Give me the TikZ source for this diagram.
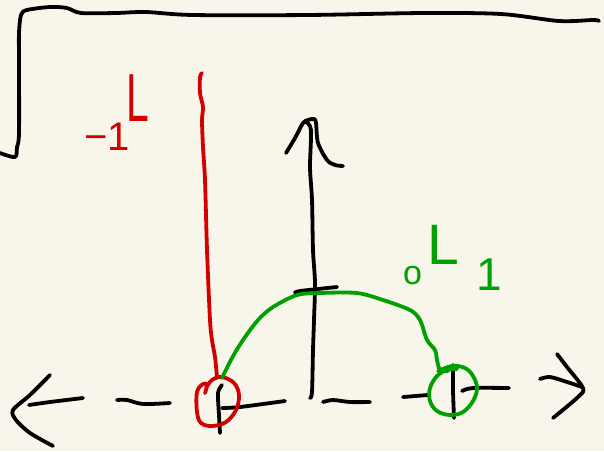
\documentclass[tikz,border=0pt]{standalone}
\usepackage{fontspec}
\setmainfont{Liberation Sans}
\definecolor{paper}{HTML}{F8F6EB}
\definecolor{pen red}{HTML}{D40000}
\definecolor{pen green}{HTML}{00A000}
\tikzset{
  ink/.style={line width=3.8pt, line cap=round, line join=round},
  blackink/.style={ink, draw=black},
  redink/.style={ink, draw=pen red, line width=3.8pt},
  greenink/.style={ink, draw=pen green, line width=3.8pt},
  lbl/.style={inner sep=0pt, outer sep=0pt, anchor=base west}
}
\begin{document}
\begin{tikzpicture}[x=1pt,y=-1pt]
\fill[paper] (0,0) rectangle (604,451);
\useasboundingbox (0,0) rectangle (604,451);
% top frame
\draw[blackink] plot[smooth, tension=0.5] coordinates {(0,153) (15,157) (17,147) (19,133) (19,60) (19,33) (21,15) (27,10) (50,7) (67,8) (81,13) (116,13) (146,12) (193,15) (308,15) (424,13) (501,14) (559,21) (593,20) (599,21)};
% y axis
\draw[blackink] plot[smooth, tension=0.5] coordinates {(306,122) (311,130) (310,167) (312,200) (313,250) (315,283) (314,320) (313,350) (312,392) (310,398)};
\draw[blackink] plot[smooth, tension=0.5] coordinates {(286,153) (295,138) (303,123) (308,120) (314,119) (316,123) (318,143) (327,160) (335,165) (343,166)};
\draw[blackink] plot[smooth, tension=0.5] coordinates {(295,293) (300,291) (337,287)};
% x axis, dashed by hand
\draw[blackink] plot[smooth, tension=0.5] coordinates {(50,375) (30,395) (13,410) (16,420) (30,433) (53,446)};
\draw[blackink] plot[smooth, tension=0.5] coordinates {(29,405) (50,402) (83,398)};
\draw[blackink] plot[smooth, tension=0.5] coordinates {(117,400) (127,400) (143,404) (170,403)};
\draw[blackink] plot[smooth, tension=0.5] coordinates {(222,385) (218,393) (219,415) (220,433)};
\draw[blackink] plot[smooth, tension=0.5] coordinates {(222,408) (240,407) (285,401)};
\draw[blackink] plot[smooth, tension=0.5] coordinates {(323,402) (333,400) (350,402) (370,402)};
\draw[blackink] plot[smooth, tension=0.5] coordinates {(403,397) (428,395)};
\draw[blackink] plot[smooth, tension=0.5] coordinates {(453,365) (453,390) (454,418)};
\draw[blackink] plot[smooth, tension=0.5] coordinates {(462,391) (473,388) (509,388)};
\draw[blackink] plot[smooth, tension=0.5] coordinates {(540,379) (550,377) (567,382) (582,387)};
\draw[blackink] plot[smooth, tension=0.5] coordinates {(557,354) (567,367) (583,388) (578,397) (553,418)};
% red
\draw[redink] plot[smooth, tension=0.5] coordinates {(202,73) (200,77) (200,93) (203,107) (202,120) (203,147) (205,180) (207,250) (210,320) (212,340) (215,357) (217,377)};
\draw[redink] plot[smooth, tension=0.6] coordinates {(205,393) (207,385) (203,384) (197,392) (197,412) (201,423) (212,426) (226,422) (236,410) (239,395) (234,383) (222,377) (212,380) (206,388)};
% green
\draw[greenink] plot[smooth, tension=0.5] coordinates {(222,378) (232,358) (243,340) (258,320) (273,307) (297,295) (320,293) (357,293) (383,300) (410,310) (420,320) (427,340) (435,350) (437,360) (440,370) (448,371)};
\draw[greenink] plot[smooth, tension=0.6] coordinates {(438,371) (452,366) (465,368) (473,376) (477,388) (473,401) (463,412) (450,415) (437,411) (430,401) (430,388) (437,376) (447,370) (457,369)};
% labels
\node[lbl, text=pen red, font=\fontsize{40}{40}\selectfont] (redm) at (84,150) {−1};
\node[lbl, text=pen red, font=\fontsize{68}{68}\selectfont] (redL) at (126,121) {\scalebox{0.6}[1]{L}};
\node[lbl, text=pen green, font=\fontsize{34}{34}\selectfont] (gro) at (403,284) {o};
\node[lbl, text=pen green, font=\fontsize{57}{57}\selectfont] (grL) at (427,264) {L};
\node[lbl, text=pen green, font=\fontsize{46}{46}\selectfont] (gr1) at (476,290) {1};
\end{tikzpicture}
\end{document}
